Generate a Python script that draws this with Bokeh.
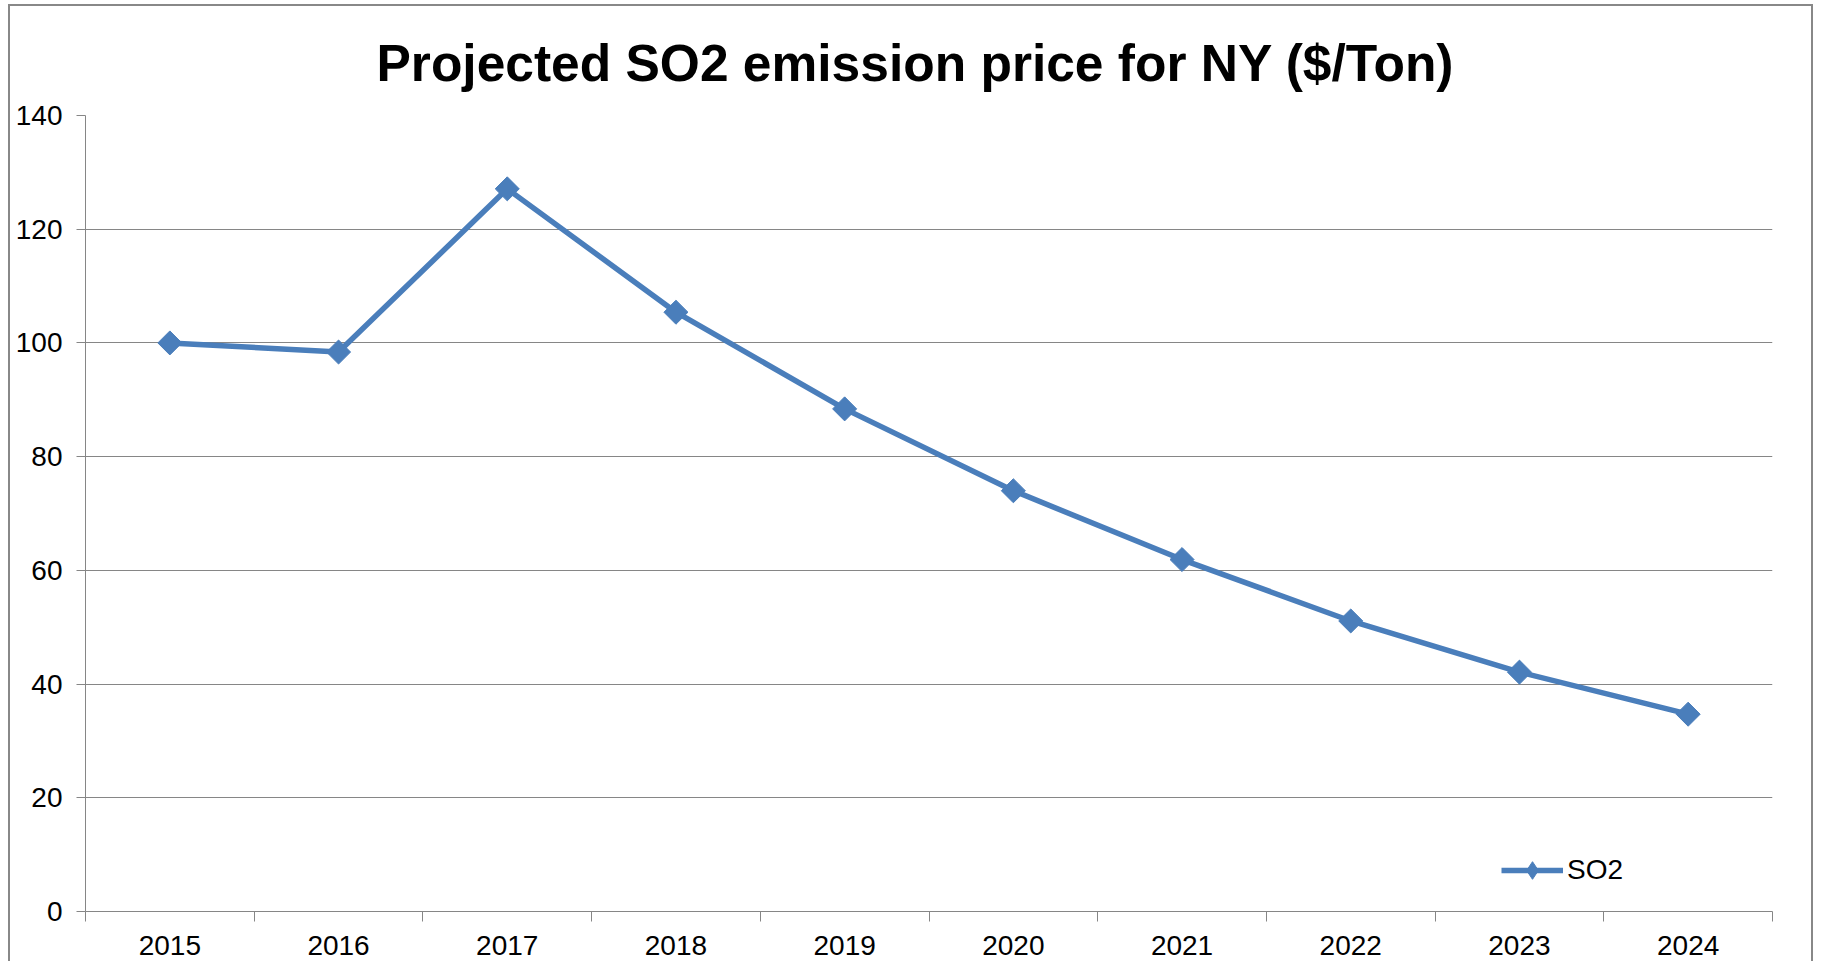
import math
from bokeh.plotting import figure
from bokeh.models import Range1d, FixedTicker, Legend, LegendItem
from bokeh.embed import file_html
from bokeh.resources import INLINE

# ---- data ----
years = ["2015", "2016", "2017", "2018", "2019", "2020", "2021", "2022", "2023", "2024"]
so2_price = [100.0, 98.4, 127.1, 105.4, 88.4, 74.0, 61.9, 51.1, 42.1, 34.7]
y_ticks = [0, 20, 40, 60, 80, 100, 120, 140]
title_text = "Projected SO2 emission price for NY ($/Ton)"
series_name = "SO2"

FONT = "Liberation Sans"
BLUE = "#4A7EBB"
GRAY = "#868686"

n = len(years)
xpos = [i + 1 for i in range(n)]

p = figure(
    width=1805, height=957,
    x_range=Range1d(0.5, n + 0.5), y_range=Range1d(y_ticks[0], y_ticks[-1]),
    output_backend="svg", toolbar_location=None,
    min_border_left=75, min_border_right=43, min_border_top=109, min_border_bottom=52,
    title=title_text,
)
p.styles = {"margin-left": "8px", "margin-top": "4px",
            "border-left": "2px solid #888888", "border-top": "2px solid #888888",
            "border-right": "2px solid #888888"}

p.title.text_font = FONT
p.title.text_font_size = "51.5px"
p.title.text_font_style = "bold"
p.title.text_color = "#000000"
p.title.align = "left"
p.title.offset = 291
p.title.standoff = 47

p.outline_line_color = None
p.background_fill_color = "white"
p.border_fill_color = "white"

# y axis
p.yaxis.ticker = FixedTicker(ticks=y_ticks)
p.yaxis.axis_line_color = GRAY
p.yaxis.major_tick_line_color = GRAY
p.yaxis.major_tick_out = 9
p.yaxis.major_tick_in = 0
p.yaxis.minor_tick_line_color = None
p.yaxis.major_label_text_font = FONT
p.yaxis.major_label_text_font_size = "28px"
p.yaxis.major_label_text_color = "#000000"
p.yaxis.major_label_standoff = 14

# x axis: labels at category centers, tick marks at boundaries
p.xaxis.ticker = FixedTicker(ticks=xpos, minor_ticks=[i + 0.5 for i in range(n + 1)])
p.xaxis.major_label_overrides = {x: y for x, y in zip(xpos, years)}
p.xaxis.axis_line_color = GRAY
p.xaxis.major_tick_line_color = None
p.xaxis.major_tick_out = 0
p.xaxis.major_tick_in = 0
p.xaxis.minor_tick_line_color = GRAY
p.xaxis.minor_tick_out = 10
p.xaxis.minor_tick_in = 0
p.xaxis.major_label_text_font = FONT
p.xaxis.major_label_text_font_size = "28px"
p.xaxis.major_label_text_color = "#000000"
p.xaxis.major_label_standoff = 14

p.xgrid.grid_line_color = None
p.ygrid.grid_line_color = GRAY
p.ygrid.grid_line_width = 1

ln = p.line(xpos, so2_price, line_color=BLUE, line_width=5.5)
mk = p.scatter(xpos, so2_price, marker="square", angle=math.pi / 4, size=17,
               fill_color=BLUE, line_color=BLUE)
# hidden renderer used only for the legend key (diamond, as in the legend)
lg_mk = p.scatter(xpos, so2_price, marker="diamond", size=19,
                  fill_color=BLUE, line_color=BLUE, visible=False)

legend = Legend(items=[LegendItem(label=series_name, renderers=[ln, lg_mk])],
                location=(1416, 19))
legend.border_line_color = None
legend.background_fill_alpha = 0
legend.inactive_fill_alpha = 0
legend.padding = 0
legend.margin = 0
legend.spacing = 0
legend.glyph_width = 62
legend.glyph_height = 44
legend.label_standoff = 4
legend.label_height = 44
legend.label_text_font = FONT
legend.label_text_font_size = "28px"
legend.label_text_color = "#000000"
p.add_layout(legend, "center")

open("out.html", "w").write(file_html(p, INLINE))
